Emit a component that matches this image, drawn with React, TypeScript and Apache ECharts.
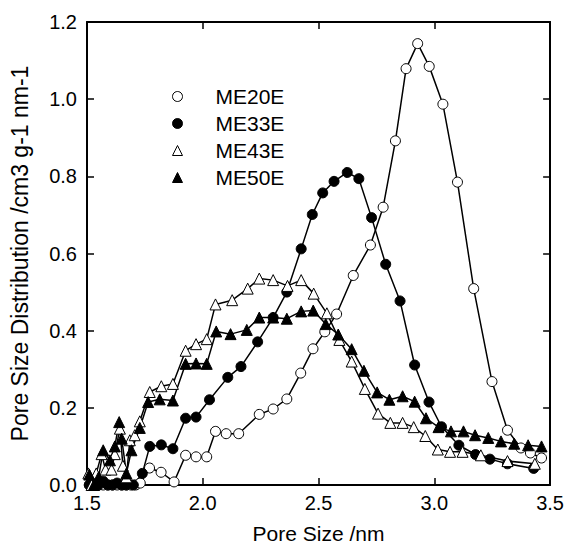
import React, { useEffect, useRef } from "react";
import * as echarts from "echarts";

const xTicks = [1.5, 2.0, 2.5, 3.0, 3.5];
const yTicks = [0.0, 0.2, 0.4, 0.6, 0.8, 1.0, 1.2];
const seriesNames = ["ME20E", "ME33E", "ME43E", "ME50E"];

const me20eX = [1.51, 1.53, 1.55, 1.57, 1.59, 1.61, 1.63, 1.65, 1.67, 1.69, 1.71, 1.73, 1.77, 1.82, 1.876, 1.926, 1.971, 2.017, 2.055, 2.101, 2.155, 2.244, 2.304, 2.363, 2.423, 2.476, 2.527, 2.578, 2.65, 2.724, 2.779, 2.832, 2.878, 2.928, 2.978, 3.037, 3.1, 3.17, 3.249, 3.316, 3.374, 3.415, 3.463];
const me20eY = [0, 0, 0, 0, 0, 0, 0, 0, 0, 0, 0, 0.005, 0.044, 0.033, 0.008, 0.077, 0.073, 0.073, 0.139, 0.133, 0.133, 0.183, 0.197, 0.223, 0.29, 0.353, 0.397, 0.443, 0.543, 0.622, 0.72, 0.892, 1.079, 1.144, 1.085, 0.987, 0.785, 0.509, 0.268, 0.142, 0.096, 0.083, 0.07];

const me33eX = [1.51, 1.53, 1.55, 1.57, 1.59, 1.61, 1.63, 1.65, 1.67, 1.7, 1.739, 1.771, 1.821, 1.871, 1.926, 1.971, 2.029, 2.108, 2.165, 2.237, 2.304, 2.363, 2.425, 2.473, 2.518, 2.567, 2.624, 2.674, 2.729, 2.79, 2.852, 2.915, 2.977, 3.031, 3.106, 3.178, 3.24, 3.316, 3.429];
const me33eY = [0, 0.005, 0, 0.01, 0, 0, 0.005, 0, 0, 0, 0.03, 0.1, 0.104, 0.094, 0.173, 0.176, 0.221, 0.279, 0.307, 0.371, 0.434, 0.5, 0.612, 0.701, 0.757, 0.787, 0.81, 0.794, 0.693, 0.572, 0.477, 0.311, 0.215, 0.151, 0.103, 0.079, 0.067, 0.055, 0.043];

const me43eX = [1.506, 1.52, 1.54, 1.563, 1.58, 1.606, 1.62, 1.642, 1.655, 1.67, 1.685, 1.706, 1.728, 1.771, 1.821, 1.871, 1.926, 1.971, 2.017, 2.055, 2.127, 2.194, 2.244, 2.304, 2.366, 2.425, 2.479, 2.536, 2.59, 2.643, 2.7, 2.757, 2.81, 2.863, 2.911, 2.961, 3.015, 3.068, 3.122, 3.201, 3.316, 3.434];
const me43eY = [0.03, 0.0, 0.03, 0.08, 0.04, 0.04, 0.08, 0.146, 0.05, 0.02, 0.116, 0.129, 0.165, 0.241, 0.256, 0.262, 0.348, 0.365, 0.378, 0.468, 0.479, 0.509, 0.535, 0.531, 0.516, 0.531, 0.496, 0.445, 0.376, 0.32, 0.249, 0.185, 0.161, 0.161, 0.15, 0.127, 0.092, 0.086, 0.086, 0.077, 0.062, 0.055];

const me50eX = [1.51, 1.53, 1.55, 1.57, 1.599, 1.62, 1.639, 1.65, 1.67, 1.692, 1.728, 1.764, 1.814, 1.871, 1.926, 1.971, 2.017, 2.058, 2.12, 2.19, 2.244, 2.304, 2.363, 2.425, 2.477, 2.531, 2.585, 2.643, 2.696, 2.753, 2.806, 2.863, 2.915, 2.964, 3.018, 3.072, 3.126, 3.176, 3.233, 3.288, 3.345, 3.405, 3.463];
const me50eY = [0.027, 0.0, 0.02, 0.09, 0.064, 0.1, 0.163, 0.12, 0.03, 0.09, 0.148, 0.215, 0.222, 0.219, 0.314, 0.315, 0.314, 0.398, 0.391, 0.402, 0.434, 0.434, 0.431, 0.45, 0.452, 0.417, 0.39, 0.352, 0.296, 0.24, 0.221, 0.23, 0.216, 0.173, 0.15, 0.139, 0.139, 0.129, 0.122, 0.113, 0.107, 0.103, 0.1];

const FONT = "Liberation Sans, Arial, sans-serif";

function pairs(xs: number[], ys: number[]) {
  return xs.map((x, i) => [x, ys[i]]);
}

export default function App() {
  const ref = useRef<HTMLDivElement>(null);
  useEffect(() => {
    document.body.style.margin = "0";
    if (!ref.current) return;
    const chart = echarts.init(ref.current, undefined, { renderer: "svg" });
    const styles = [
      { symbol: "circle", fill: "#ffffff" },
      { symbol: "circle", fill: "#000000" },
      { symbol: "triangle", fill: "#ffffff" },
      { symbol: "triangle", fill: "#000000" },
    ];
    const datas = [
      pairs(me20eX, me20eY),
      pairs(me33eX, me33eY),
      pairs(me43eX, me43eY),
      pairs(me50eX, me50eY),
    ];
    const axisCommon = {
      axisLine: { show: true, onZero: false, lineStyle: { color: "#000", width: 2 } },
      axisTick: { show: true, inside: true, length: 7, lineStyle: { color: "#000", width: 1.5 } },
      splitLine: { show: false },
    };
    chart.setOption({
      animation: false,
      backgroundColor: "#ffffff",
      grid: { left: 87, right: 15, top: 22, bottom: 62, containLabel: false },
      legend: {
        orient: "vertical",
        left: 167,
        top: 81,
        itemWidth: 10,
        itemHeight: 10,
        itemGap: 6,
        textStyle: { fontFamily: FONT, fontSize: 21, color: "#000", padding: [0, 0, 0, 28] },
        data: seriesNames.map((n, i) => ({
          name: n,
          icon: styles[i].symbol,
          itemStyle: { color: styles[i].fill, borderColor: "#000", borderWidth: 1 },
        })),
      },
      xAxis: [
        {
          type: "value",
          min: xTicks[0],
          max: xTicks[xTicks.length - 1],
          interval: 0.5,
          position: "bottom",
          name: "Pore Size /nm",
          nameLocation: "middle",
          nameGap: 38,
          nameTextStyle: { fontFamily: FONT, fontSize: 21, color: "#000" },
          axisLabel: { fontFamily: FONT, fontSize: 20, color: "#000", margin: 8, formatter: (v: number) => v.toFixed(1) },
          ...axisCommon,
        },
        {
          type: "value",
          min: xTicks[0],
          max: xTicks[xTicks.length - 1],
          interval: 0.5,
          position: "top",
          axisLabel: { show: false },
          ...axisCommon,
        },
      ],
      yAxis: [
        {
          type: "value",
          min: yTicks[0],
          max: yTicks[yTicks.length - 1],
          interval: 0.2,
          position: "left",
          name: "Pore Size Distribution /cm3 g-1 nm-1",
          nameLocation: "middle",
          nameGap: 56,
          nameTextStyle: { fontFamily: FONT, fontSize: 23, color: "#000" },
          axisLabel: { fontFamily: FONT, fontSize: 20, color: "#000", margin: 10, formatter: (v: number) => v.toFixed(1) },
          ...axisCommon,
        },
        {
          type: "value",
          min: yTicks[0],
          max: yTicks[yTicks.length - 1],
          interval: 0.2,
          position: "right",
          axisLabel: { show: false },
          ...axisCommon,
        },
      ],
      series: seriesNames.map((n, i) => ({
        name: n,
        type: "line",
        xAxisIndex: 0,
        yAxisIndex: 0,
        data: datas[i],
        symbol: styles[i].symbol,
        symbolSize: styles[i].symbol === "circle" ? 10 : 11,
        showAllSymbol: true,
        lineStyle: { color: "#000", width: 1.5 },
        itemStyle: { color: styles[i].fill, borderColor: "#000", borderWidth: 1 },
        emphasis: { disabled: true },
      })),
    });
    return () => chart.dispose();
  }, []);
  return <div ref={ref} style={{ width: 567, height: 549 }} />;
}
